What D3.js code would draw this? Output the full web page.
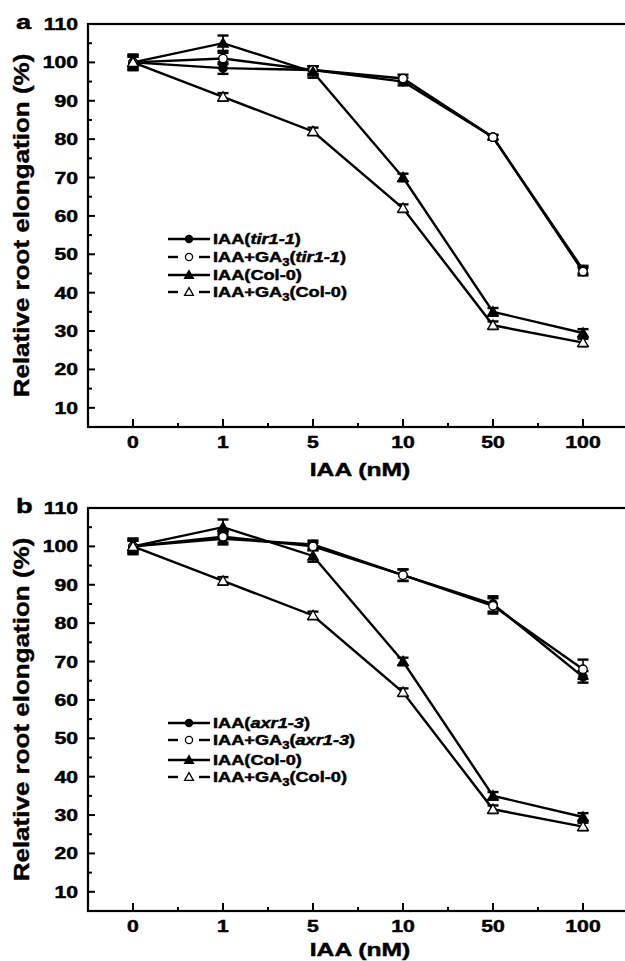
<!DOCTYPE html>
<html lang="en">
  <head>
    <meta charset="UTF-8" />
    <title>Relative root elongation</title>
    <script src="https://cdnjs.cloudflare.com/ajax/libs/d3/7.8.5/d3.min.js"></script>
    <style>
      body {
        margin: 0;
        background: #fff;
      }
      text {
        font-family: "Liberation Sans", Arial, sans-serif;
        font-weight: bold;
        fill: #000;
        stroke: #000;
        stroke-width: 0.45px;
      }
    </style>
  </head>
  <body>
    <div id="chart"></div>
    <script>
      // Doses on the x axis (categorical)
      const doses = ["0", "1", "5", "10", "50", "100"];
      const yTickValues = [10, 20, 30, 40, 50, 60, 70, 80, 90, 100, 110];
      const yMinorValues = [15, 25, 35, 45, 55, 65, 75, 85, 95, 105];

      // Panel a: tir1-1
      const tirIAA = [100, 98.5, 98, 95, 80.5, 46];
      const tirIAAErr = [1.5, 1.5, 1, 1, 0.6, 1];
      const tirGA = [100, 101, 98, 95.8, 80.5, 45.5];
      const tirGAErr = [1.5, 1.5, 1, 1, 0.6, 1];

      // Col-0 (same in both panels)
      const colIAA = [100, 105, 97.5, 70, 35, 29.5];
      const colIAAErr = [2, 2, 1.5, 1, 1, 1];
      const colGA = [100, 91, 82, 62, 31.5, 27];
      const colGAErr = [2, 1, 1, 1, 1, 1];

      // Panel b: axr1-3
      const axrIAA = [100, 102, 100.5, 92.5, 85, 66];
      const axrIAAErr = [1.5, 1.5, 1, 1.5, 2, 1.5];
      const axrGA = [100, 102.5, 100, 92.5, 84.5, 68];
      const axrGAErr = [1.5, 1.5, 1, 1.5, 2, 2.5];

      const W = 625,
        H = 961;
      const SX = 1.3; // the lettering in the original is stretched sideways

      const svg = d3
        .select("#chart")
        .append("svg")
        .attr("width", W)
        .attr("height", H);

      const xScale = d3
        .scalePoint()
        .domain(doses)
        .range([133, 583]);
      const step = xScale.step();

      function hText(parent, x, y, size, anchor) {
        return parent
          .append("g")
          .attr("transform", `translate(${x},${y}) scale(${SX},1)`)
          .append("text")
          .attr("text-anchor", anchor)
          .style("font-size", size + "px");
      }

      function marker(g, shape, open, x, y, k) {
        const fill = open ? "#fff" : "#000";
        if (shape === "circle") {
          g.append("circle")
            .attr("cx", x)
            .attr("cy", y)
            .attr("r", 4.2 * k)
            .attr("fill", fill)
            .attr("stroke", "#000")
            .attr("stroke-width", 1.3);
        } else {
          const s = 5.2 * k;
          g.append("path")
            .attr(
              "d",
              `M${x},${y - s}L${x + s},${y + s * 0.75}L${x - s},${
                y + s * 0.75
              }Z`
            )
            .attr("fill", fill)
            .attr("stroke", "#000")
            .attr("stroke-width", 1.3);
        }
      }

      function panel(p, series) {
        const top = p.top,
          bottom = p.bottom;
        const yScale = d3.scaleLinear().domain([5, 110]).range([bottom, top]);
        const g = svg.append("g");
        const left = xScale(doses[0]) - step / 2;
        const right = xScale(doses[5]) + step / 2;

        // frame
        g.append("rect")
          .attr("x", left)
          .attr("y", top)
          .attr("width", right - left)
          .attr("height", bottom - top)
          .attr("fill", "none")
          .attr("stroke", "#000")
          .attr("stroke-width", 2.2);

        // y ticks
        g.selectAll(".ymaj")
          .data(yTickValues)
          .enter()
          .append("line")
          .attr("x1", left)
          .attr("x2", left + 7)
          .attr("y1", (d) => yScale(d))
          .attr("y2", (d) => yScale(d))
          .attr("stroke", "#000")
          .attr("stroke-width", 2);
        g.selectAll(".ymin")
          .data(yMinorValues)
          .enter()
          .append("line")
          .attr("x1", left)
          .attr("x2", left + 4)
          .attr("y1", (d) => yScale(d))
          .attr("y2", (d) => yScale(d))
          .attr("stroke", "#000")
          .attr("stroke-width", 2);
        yTickValues.forEach((v) => {
          hText(g, 78, yScale(v) + 6, 16.3, "end").text(v);
        });

        // x ticks
        g.selectAll(".xmaj")
          .data(doses)
          .enter()
          .append("line")
          .attr("x1", (d) => xScale(d))
          .attr("x2", (d) => xScale(d))
          .attr("y1", bottom)
          .attr("y2", bottom - 8)
          .attr("stroke", "#000")
          .attr("stroke-width", 2);
        g.selectAll(".xmin")
          .data(doses.slice(0, 5))
          .enter()
          .append("line")
          .attr("x1", (d) => xScale(d) + step / 2)
          .attr("x2", (d) => xScale(d) + step / 2)
          .attr("y1", bottom)
          .attr("y2", bottom - 4)
          .attr("stroke", "#000")
          .attr("stroke-width", 2);
        doses.forEach((d) => {
          hText(g, xScale(d), bottom + p.tickGap, 16.3, "middle").text(d);
        });

        // axis titles
        hText(g, 360, bottom + p.titleGap, 19, "middle").text("IAA (nM)");
        g.append("text")
          .attr(
            "transform",
            `translate(28.5,${(top + bottom) / 2}) rotate(-90) scale(1,0.82)`
          )
          .attr("text-anchor", "middle")
          .style("font-size", "26px")
          .text("Relative root elongation (%)");
        hText(g, 16, top + 5, 21, "start").text(p.letter);

        // series
        const line = d3
          .line()
          .x((d, i) => xScale(doses[i]))
          .y((d) => yScale(d));

        series.forEach((s) => {
          g.append("path")
            .datum(s.values)
            .attr("d", line)
            .attr("fill", "none")
            .attr("stroke", "#000")
            .attr("stroke-width", 2.4);
        });
        series.forEach((s) => {
          const eb = g.append("g").attr("stroke", "#000");
          s.values.forEach((v, i) => {
            const x = xScale(doses[i]);
            const y1 = yScale(v + s.err[i]);
            const y2 = yScale(v - s.err[i]);
            eb.append("line")
              .attr("x1", x)
              .attr("x2", x)
              .attr("y1", y1)
              .attr("y2", y2)
              .attr("stroke-width", 1.6);
            [y1, y2].forEach((yy) => {
              eb.append("line")
                .attr("x1", x - 5.5)
                .attr("x2", x + 5.5)
                .attr("y1", yy)
                .attr("y2", yy)
                .attr("stroke-width", 2.4);
            });
          });
        });
        series.forEach((s) => {
          s.values.forEach((v, i) => {
            marker(g, s.shape, s.open, xScale(doses[i]), yScale(v), 1);
          });
        });

        // legend
        const lx0 = 168,
          lx1 = 210,
          lm = 189;
        series.forEach((s, i) => {
          const ly = p.legendY[i];
          if (s.open) {
            g.append("line")
              .attr("x1", lx0)
              .attr("x2", lm - 11)
              .attr("y1", ly)
              .attr("y2", ly)
              .attr("stroke", "#000")
              .attr("stroke-width", 2.4);
            g.append("line")
              .attr("x1", lm + 10)
              .attr("x2", lx1)
              .attr("y1", ly)
              .attr("y2", ly)
              .attr("stroke", "#000")
              .attr("stroke-width", 2.4);
          } else {
            g.append("line")
              .attr("x1", lx0)
              .attr("x2", lx1)
              .attr("y1", ly)
              .attr("y2", ly)
              .attr("stroke", "#000")
              .attr("stroke-width", 2.4);
          }
          marker(g, s.shape, s.open, lm, ly, 0.85);

          const t = hText(g, 213, ly + 5, 14, "start");
          t.append("tspan").text(s.ga ? "IAA+GA" : "IAA");
          if (s.ga) {
            t.append("tspan")
              .attr("dy", 4)
              .style("font-size", "10px")
              .text("3");
            t.append("tspan").attr("dy", -4).text("(");
          } else {
            t.append("tspan").text("(");
          }
          t.append("tspan")
            .style("font-style", s.italic ? "italic" : "normal")
            .text(s.strain);
          t.append("tspan").text(")");
        });
      }

      panel(
        { top: 24, bottom: 427, letter: "a", tickGap: 21, titleGap: 49, legendY: [239, 257, 275, 292] },
        [
          { values: tirIAA, err: tirIAAErr, shape: "circle", open: false, ga: false, strain: "tir1-1", italic: true },
          { values: tirGA, err: tirGAErr, shape: "circle", open: true, ga: true, strain: "tir1-1", italic: true },
          { values: colIAA, err: colIAAErr, shape: "triangle", open: false, ga: false, strain: "Col-0", italic: false },
          { values: colGA, err: colGAErr, shape: "triangle", open: true, ga: true, strain: "Col-0", italic: false },
        ]
      );

      panel(
        { top: 508, bottom: 911, letter: "b", tickGap: 21, titleGap: 45, legendY: [723, 740, 760, 777] },
        [
          { values: axrIAA, err: axrIAAErr, shape: "circle", open: false, ga: false, strain: "axr1-3", italic: true },
          { values: axrGA, err: axrGAErr, shape: "circle", open: true, ga: true, strain: "axr1-3", italic: true },
          { values: colIAA, err: colIAAErr, shape: "triangle", open: false, ga: false, strain: "Col-0", italic: false },
          { values: colGA, err: colGAErr, shape: "triangle", open: true, ga: true, strain: "Col-0", italic: false },
        ]
      );
    </script>
  </body>
</html>
